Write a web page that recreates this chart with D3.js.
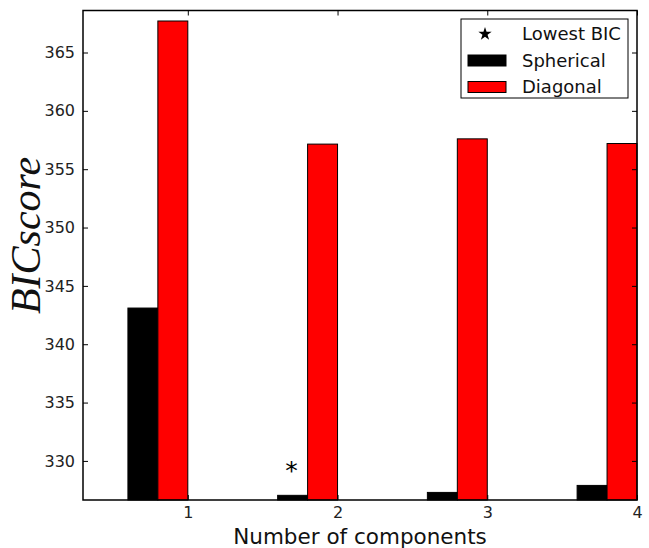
<!DOCTYPE html>
<html>
<head>
<meta charset="utf-8">
<script src="https://cdn.jsdelivr.net/npm/d3@7"></script>
<style>
  body { margin: 0; background: #fff; }
  svg { display: block; }
  text { font-family: "DejaVu Sans", sans-serif; }
</style>
</head>
<body>
<div id="myPlot"></div>
<script>
// Set Dimensions
const width = 649;
const height = 548;
const margin = {top: 10.5, right: 12, bottom: 48, left: 83};
const xMax = width - margin.left - margin.right;
const yMax = height - margin.top - margin.bottom;

// Data
const components = [1, 2, 3, 4];
const spherical = [343.1, 327.05, 327.3, 327.9];
const diagonal = [367.7, 357.15, 357.6, 357.2];
const yTicks = [330, 335, 340, 345, 350, 355, 360, 365];
const legendLabels = ["Lowest BIC", "Spherical", "Diagonal"];
const barWidth = 0.2;

const svg = d3.select("#myPlot")
  .append("svg")
  .attr("width", width)
  .attr("height", height)
  .append("g")
  .attr("transform", `translate(${margin.left},${margin.top})`);

// scales
const x = d3.scaleLinear().domain([0.3, 4.0]).range([0, xMax]);
const y = d3.scaleLinear().domain([326.65, 368.6]).range([yMax, 0]);

// bars
svg.append("g")
  .selectAll("rect.sph")
  .data(components)
  .enter()
  .append("rect")
  .attr("class", "sph")
  .attr("x", (d) => x(d - 2 * barWidth))
  .attr("y", (d, i) => y(spherical[i]))
  .attr("width", x(barWidth) - x(0))
  .attr("height", (d, i) => yMax - y(spherical[i]))
  .style("fill", "#000")
  .style("stroke", "#000")
  .style("stroke-width", 1);

svg.append("g")
  .selectAll("rect.diag")
  .data(components)
  .enter()
  .append("rect")
  .attr("class", "diag")
  .attr("x", (d) => x(d - barWidth))
  .attr("y", (d, i) => y(diagonal[i]))
  .attr("width", x(barWidth) - x(0))
  .attr("height", (d, i) => yMax - y(diagonal[i]))
  .style("fill", "#ff0000")
  .style("stroke", "#000")
  .style("stroke-width", 1);

// asterisk marking the lowest BIC
const bicAll = spherical.concat(diagonal);
const minIdx = bicAll.indexOf(d3.min(bicAll));
const starX = (minIdx % components.length) + 0.65 + 0.2 * Math.floor(minIdx / components.length);
const starY = d3.min(bicAll) * 0.97 + 0.03 * d3.max(bicAll);
svg.append("text")
  .attr("x", x(starX))
  .attr("y", y(starY) - 2)
  .style("font-size", "25px")
  .style("fill", "#000")
  .text("*");

// axes (ticks inside, mirrored on all sides)
const tickLen = 5;
const yAxis = svg.append("g")
  .call(d3.axisLeft(y).tickValues(yTicks).tickSizeInner(-tickLen).tickSizeOuter(0).tickPadding(8));
yAxis.select(".domain").remove();
yAxis.selectAll("text").style("font-size", "16px").style("fill", "#222");

const yRight = svg.append("g")
  .attr("transform", `translate(${xMax},0)`)
  .call(d3.axisRight(y).tickValues(yTicks).tickSizeInner(-tickLen).tickSizeOuter(0).tickFormat(""));
yRight.select(".domain").remove();

const xAxis = svg.append("g")
  .attr("transform", `translate(0,${yMax})`)
  .call(d3.axisBottom(x).tickValues(components).tickSizeInner(-tickLen).tickSizeOuter(0).tickPadding(7).tickFormat(d3.format("d")));
xAxis.select(".domain").remove();
xAxis.selectAll("text").style("font-size", "16px").style("fill", "#222");

const xTop = svg.append("g")
  .call(d3.axisTop(x).tickValues(components).tickSizeInner(-tickLen).tickSizeOuter(0).tickFormat(""));
xTop.select(".domain").remove();

svg.selectAll(".tick line").style("stroke", "#000").style("stroke-width", 1);

// frame
svg.append("rect")
  .attr("x", 0)
  .attr("y", 0)
  .attr("width", xMax)
  .attr("height", yMax)
  .style("fill", "none")
  .style("stroke", "#000")
  .style("stroke-width", 1.5);

// axis labels
svg.append("text")
  .attr("x", xMax / 2)
  .attr("y", yMax + 44)
  .style("font-size", "21.5px")
  .style("fill", "#111")
  .style("text-anchor", "middle")
  .text("Number of components");

svg.append("text")
  .attr("transform", "rotate(-90)")
  .attr("x", -225)
  .attr("y", -43)
  .style("font-family", "'Liberation Serif', 'DejaVu Serif', serif")
  .style("font-style", "italic")
  .style("font-size", "42px")
  .style("fill", "#111")
  .style("text-anchor", "middle")
  .text("BICscore");

// legend
const legend = svg.append("g")
  .attr("transform", `translate(${xMax - 176},${8.5})`);

legend.append("rect")
  .attr("width", 167)
  .attr("height", 79)
  .style("fill", "#fff")
  .style("stroke", "#000")
  .style("stroke-width", 1);

const legendColors = [null, "#000", "#ff0000"];
legendLabels.forEach((label, i) => {
  const cy = 15 + i * 26.5;
  if (i === 0) {
    legend.append("path")
      .attr("d", d3.symbol().type(d3.symbolStar).size(55)())
      .attr("transform", `translate(24,${cy})`)
      .style("fill", "#000");
  } else {
    legend.append("rect")
      .attr("x", 7)
      .attr("y", cy - 5.5)
      .attr("width", 38)
      .attr("height", 11)
      .style("fill", legendColors[i])
      .style("stroke", "#000")
      .style("stroke-width", 1);
  }
  legend.append("text")
    .attr("x", 61)
    .attr("y", cy)
    .attr("dy", "0.36em")
    .style("font-size", "18px")
    .style("fill", "#111")
    .text(label);
});
</script>
</body>
</html>
